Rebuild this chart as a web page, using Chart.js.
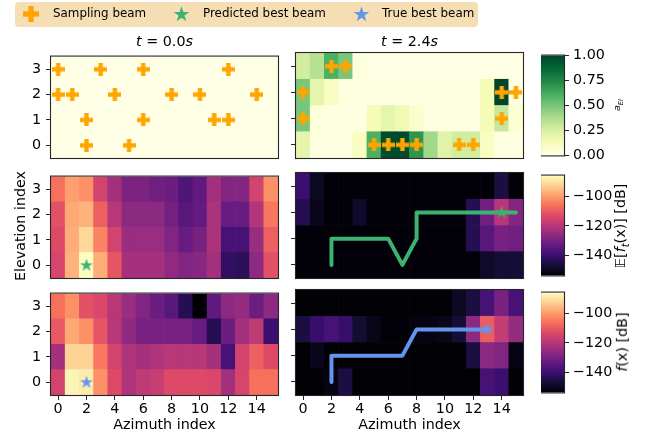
<!DOCTYPE html>
<html>
<head>
<meta charset="utf-8">
<script src="https://cdn.jsdelivr.net/npm/chart.js@4/dist/chart.umd.min.js"></script>
<style>
body { margin: 0; background: #fff; width: 652px; height: 440px; position: relative; overflow: hidden; font-family: 'DejaVu Sans', sans-serif; color: #000; }
.txt { position: absolute; white-space: nowrap; font-size: 14.3px; line-height: 1; }
#legend { position: absolute; left: 15px; top: 2px; width: 463px; height: 25px; background: #f5deb3; border-radius: 4px; }
</style>
</head>
<body>
<div id="legend"></div>
<script>
// axes
var azimuth = [0, 1, 2, 3, 4, 5, 6, 7, 8, 9, 10, 11, 12, 13, 14, 15];
var elevation = [0, 1, 2, 3];
var xTicks = [0, 2, 4, 6, 8, 10, 12, 14];
var yTicks = [0, 1, 2, 3];

// acquisition value a_EI (rows = elevation 0..3)
var acqT0 = [
    [0, 0, 0, 0, 0, 0, 0, 0, 0, 0, 0, 0, 0, 0, 0, 0],
    [0, 0, 0, 0, 0, 0, 0, 0, 0, 0, 0, 0, 0, 0, 0, 0],
    [0, 0, 0, 0, 0, 0, 0, 0, 0, 0, 0, 0, 0, 0, 0, 0],
    [0, 0, 0, 0, 0, 0, 0, 0, 0, 0, 0, 0, 0, 0, 0, 0]
];
var acqT24 = [
    [0.20, 0.01, 0.01, 0.01, 0.10, 0.60, 0.98, 0.98, 0.70, 0.40, 0.22, 0.27, 0.27, 0.10, 0.01, 0.01],
    [0.50, 0.03, 0.01, 0.01, 0.01, 0.13, 0.20, 0.15, 0.07, 0.01, 0.01, 0.01, 0.01, 0.13, 0.30, 0.05],
    [0.50, 0.20, 0.10, 0.02, 0.01, 0.01, 0.01, 0.01, 0.01, 0.01, 0.01, 0.01, 0.01, 0.13, 1.00, 0.01],
    [0.27, 0.35, 0.60, 0.50, 0.03, 0, 0, 0, 0, 0, 0, 0, 0, 0, 0, 0]
];

// predicted mean E[f_t(x)] in dB
var predT0 = [
    [-114.4, -96.8, -86.0, -97.5, -111.0, -122.5, -122.5, -122.5, -125.8, -128.5, -127.2, -123.1, -141.4, -142.7, -126.5, -111.6],
    [-113.0, -97.5, -91.4, -103.5, -115.0, -124.5, -124.5, -124.5, -128.5, -132.6, -129.9, -121.8, -138.0, -138.0, -124.5, -109.0],
    [-111.6, -98.2, -96.8, -109.0, -119.8, -126.5, -126.5, -126.5, -130.5, -135.3, -133.3, -121.8, -132.6, -132.6, -120.4, -105.6],
    [-106.3, -99.5, -101.5, -115.0, -123.1, -129.2, -129.2, -131.2, -131.9, -136.6, -133.9, -123.1, -127.9, -127.9, -115.0, -101.5]
];
var predT24 = [
    [-152.8, -152.8, -152.8, -152.8, -152.8, -152.8, -152.8, -152.8, -152.8, -152.8, -152.8, -152.8, -152.8, -148.8, -146.8, -146.8],
    [-152.8, -152.8, -152.8, -152.8, -152.8, -152.8, -152.8, -152.8, -152.8, -152.8, -152.8, -152.8, -143.4, -135.3, -129.9, -131.2],
    [-143.4, -150.1, -152.8, -152.8, -148.1, -152.8, -152.8, -152.8, -152.8, -152.8, -152.8, -152.8, -143.4, -131.2, -119.8, -127.9],
    [-140.0, -149.4, -152.8, -152.8, -152.8, -152.8, -152.8, -152.8, -152.8, -152.8, -152.8, -152.8, -152.8, -152.8, -145.4, -152.8]
];

// true gain f(x) in dB
var trueT0 = [
    [-115.0, -87.4, -88.7, -101.5, -113.0, -121.1, -118.4, -117.0, -113.0, -113.0, -113.0, -113.7, -123.1, -114.4, -106.3, -106.3],
    [-122.5, -92.1, -92.1, -104.9, -115.0, -121.1, -122.5, -121.1, -119.8, -119.8, -119.8, -122.5, -138.0, -115.0, -109.0, -113.0],
    [-110.3, -98.2, -101.5, -111.0, -119.8, -125.8, -129.9, -129.9, -129.9, -129.9, -132.6, -143.4, -131.9, -123.1, -118.4, -140.0],
    [-106.3, -101.5, -111.6, -113.7, -119.8, -124.5, -128.5, -131.9, -135.3, -143.4, -153.5, -133.9, -126.5, -125.2, -131.9, -126.5]
];
var trueT24 = [
    [-153.2, -153.2, -151.5, -145.4, -153.2, -153.2, -153.2, -153.2, -153.2, -153.2, -153.2, -153.2, -153.2, -138.0, -140.0, -153.2],
    [-153.2, -150.1, -153.2, -153.2, -153.2, -153.2, -153.2, -153.2, -153.2, -153.2, -153.2, -153.2, -145.4, -126.5, -128.5, -151.5],
    [-145.4, -140.7, -138.0, -140.7, -147.4, -150.8, -152.8, -152.8, -152.2, -151.5, -150.8, -146.8, -126.5, -109.6, -117.7, -125.2],
    [-153.2, -153.2, -153.2, -153.2, -153.2, -153.2, -153.2, -153.2, -153.2, -153.2, -153.2, -149.4, -145.4, -138.0, -129.9, -138.0]
];

// sampled beams
var sampleT0X = [0, 3, 6, 12, 0, 1, 4, 8, 10, 14, 2, 6, 11, 12, 2, 5];
var sampleT0Y = [3, 3, 3, 3, 2, 2, 2, 2, 2, 2, 1, 1, 1, 1, 0, 0];
var sampleT24X = [2, 3, 0, 14, 15, 0, 14, 5, 6, 7, 8, 11, 12];
var sampleT24Y = [3, 3, 2, 2, 2, 1, 1, 0, 0, 0, 0, 0, 0];

// best beams and tracked paths
var predBestX = [2, 14];
var predBestY = [0, 2];
var trueBestX = [2, 13];
var trueBestY = [0, 2];
var predPathX = [2, 2, 6, 7, 8, 8, 15];
var predPathY = [0, 1, 1, 0, 1, 2, 2];
var truePathX = [2, 2, 7, 8, 13];
var truePathY = [0, 1, 1, 2, 2];

// colour scales
var acqRange = [0, 1];
var acqTicks = [0, 0.25, 0.5, 0.75, 1];
var dbRange = [-153.5, -86];
var dbTicks = [-140, -120, -100];

var magmaStops = ['#000004', '#140e36', '#3b0f70', '#641a80', '#8c2981', '#b73779', '#de4968', '#f7705c', '#fe9f6d', '#fecf92', '#fcfdbf'];
var ylgnStops = ['#ffffe5', '#f7fcb9', '#d9f0a3', '#addd8e', '#78c679', '#41ab5d', '#238443', '#006837', '#004529'];

var orange = '#ffa500';
var green = '#3cb371';
var blue = '#6495ed';

Chart.defaults.font.family = "'DejaVu Sans', sans-serif";
Chart.defaults.font.size = 14.3;
Chart.defaults.color = '#000';
Chart.defaults.animation = false;
Chart.defaults.plugins.legend.display = false;
Chart.defaults.plugins.tooltip.enabled = false;

var colLeft = [51, 296];
var rowTop = [53, 173, 290];
var panelW = 227;
var panelH = 105;
var cbarLeft = 541;
var cbarW = 23;

function hexRgb(h) {
    return [parseInt(h.substr(1, 2), 16), parseInt(h.substr(3, 2), 16), parseInt(h.substr(5, 2), 16)];
}

function cmapColor(stops, v, range) {
    var t = (v - range[0]) / (range[1] - range[0]);
    t = Math.max(0, Math.min(1, t));
    var p = t * (stops.length - 1);
    var i = Math.min(Math.floor(p), stops.length - 2);
    var f = p - i;
    var a = hexRgb(stops[i]), b = hexRgb(stops[i + 1]);
    var c = a.map(function (x, k) { return Math.round(x + (b[k] - x) * f); });
    return 'rgb(' + c.join(',') + ')';
}

function plusMarker(size, color) {
    var c = document.createElement('canvas');
    c.width = size; c.height = size;
    var g = c.getContext('2d');
    var a = size / 3;
    g.fillStyle = color;
    g.fillRect(a, 0, a, size);
    g.fillRect(0, a, size, a);
    return c;
}

function starMarker(r, color) {
    var size = Math.ceil(2 * r + 2);
    var c = document.createElement('canvas');
    c.width = size; c.height = size;
    var g = c.getContext('2d');
    g.fillStyle = color;
    g.beginPath();
    for (var i = 0; i < 10; i++) {
        var rr = i % 2 ? r * 0.381966 : r;
        var ang = -Math.PI / 2 + i * Math.PI / 5;
        g.lineTo(size / 2 + rr * Math.cos(ang), size / 2 + rr * Math.sin(ang));
    }
    g.closePath();
    g.fill();
    return c;
}

var frame = {
    id: 'frame',
    afterDraw: function (chart) {
        var a = chart.chartArea, g = chart.ctx;
        g.save();
        g.strokeStyle = '#262626';
        g.lineWidth = 1.1;
        g.strokeRect(a.left - 0.5, a.top - 0.5, a.right - a.left + 1, a.bottom - a.top + 1);
        g.restore();
    }
};

function makeCanvas(left, top, w, h) {
    var c = document.createElement('canvas');
    c.width = w; c.height = h;
    c.style.cssText = 'position:absolute;left:' + left + 'px;top:' + top + 'px;width:' + w + 'px;height:' + h + 'px';
    document.body.appendChild(c);
    return c;
}

function xy(xs, ys) {
    return xs.map(function (x, i) { return { x: x, y: ys[i] }; });
}

function heatmap(col, row, grid, stops, range, extra) {
    var showX = row === 2;
    var showY = col === 0;
    var canvas = makeCanvas(colLeft[col] - 45, rowTop[row] - 10, panelW + 55, panelH + 40);
    var datasets = grid.map(function (vals, r) {
        return {
            type: 'bar',
            data: azimuth.map(function (a) { return { x: a, y: [elevation[r] - 0.5, elevation[r] + 0.5] }; }),
            backgroundColor: vals.map(function (v) { return cmapColor(stops, v, range); }),
            borderWidth: 0,
            grouped: false,
            barPercentage: 1,
            categoryPercentage: 1,
            order: 3
        };
    });
    new Chart(canvas, {
        type: 'bar',
        data: { datasets: datasets.concat(extra) },
        options: {
            responsive: false,
            devicePixelRatio: 1,
            layout: { padding: { top: 10, right: 10, left: 0, bottom: 0 } },
            scales: {
                x: {
                    type: 'linear', min: -0.5, max: 15.5, offset: false,
                    grid: { offset: false, drawOnChartArea: false, drawTicks: showX, tickLength: 5, color: '#262626' },
                    border: { display: false },
                    ticks: { display: showX, padding: 1, autoSkip: false },
                    afterBuildTicks: function (a) { a.ticks = xTicks.map(function (v) { return { value: v }; }); },
                    afterFit: function (a) { a.height = 30; }
                },
                y: {
                    type: 'linear', min: -0.5, max: 3.5,
                    grid: { drawOnChartArea: false, tickLength: 5, color: '#262626' },
                    border: { display: false },
                    ticks: { display: showY, padding: 5 },
                    afterBuildTicks: function (a) { a.ticks = yTicks.map(function (v) { return { value: v }; }); },
                    afterFit: function (a) { a.width = 45; }
                }
            }
        },
        plugins: [frame]
    });
}

function colorbar(row, stops, range, ticks, fmt) {
    var canvas = makeCanvas(cbarLeft, rowTop[row] - 10, cbarW + 70, panelH + 20);
    new Chart(canvas, {
        type: 'bar',
        data: {
            labels: [''],
            datasets: [{
                data: [range],
                backgroundColor: function (ctx) {
                    var a = ctx.chart.chartArea;
                    if (!a) return stops[0];
                    var g = ctx.chart.ctx.createLinearGradient(0, a.bottom, 0, a.top);
                    stops.forEach(function (s, i) { g.addColorStop(i / (stops.length - 1), s); });
                    return g;
                },
                borderWidth: 0,
                barPercentage: 1,
                categoryPercentage: 1
            }]
        },
        options: {
            responsive: false,
            devicePixelRatio: 1,
            layout: { padding: { top: 10, bottom: 10, left: 0, right: 0 } },
            scales: {
                x: { display: false },
                y: {
                    position: 'right', min: range[0], max: range[1],
                    grid: { drawOnChartArea: false, tickLength: 5, color: '#262626' },
                    border: { display: false },
                    ticks: { padding: 4, callback: fmt },
                    afterBuildTicks: function (a) { a.ticks = ticks.map(function (v) { return { value: v }; }); },
                    afterFit: function (a) { a.width = 70; }
                }
            }
        },
        plugins: [frame]
    });
}

var plusSmall = plusMarker(13, orange);
var greenStar = starMarker(6.8, green);
var blueStar = starMarker(6.8, blue);

function markers(xs, ys, style) {
    return { type: 'scatter', data: xy(xs, ys), pointStyle: style, pointRadius: 6, clip: false, order: 1 };
}
function path(xs, ys, color) {
    return {
        type: 'line', data: xy(xs, ys), borderColor: color, borderWidth: 4, pointRadius: 0,
        tension: 0, fill: false, borderJoinStyle: 'round', borderCapStyle: 'round', order: 2
    };
}

heatmap(0, 0, acqT0, ylgnStops, acqRange, [markers(sampleT0X, sampleT0Y, plusSmall)]);
heatmap(1, 0, acqT24, ylgnStops, acqRange, [markers(sampleT24X, sampleT24Y, plusSmall)]);
heatmap(0, 1, predT0, magmaStops, dbRange, [markers(predBestX.slice(0, 1), predBestY.slice(0, 1), greenStar)]);
heatmap(1, 1, predT24, magmaStops, dbRange, [path(predPathX, predPathY, green), markers(predBestX.slice(1), predBestY.slice(1), greenStar)]);
heatmap(0, 2, trueT0, magmaStops, dbRange, [markers(trueBestX.slice(0, 1), trueBestY.slice(0, 1), blueStar)]);
heatmap(1, 2, trueT24, magmaStops, dbRange, [path(truePathX, truePathY, blue), markers(trueBestX.slice(1), trueBestY.slice(1), blueStar)]);

var fmtAcq = function (v) { return v.toFixed(2); };
var fmtDb = function (v) { return String(v).replace('-', '\u2212'); };
colorbar(0, ylgnStops, acqRange, acqTicks, fmtAcq);
colorbar(1, magmaStops, dbRange, dbTicks, fmtDb);
colorbar(2, magmaStops, dbRange, dbTicks, fmtDb);

function text(html, x, y, opts) {
    opts = opts || {};
    var d = document.createElement('div');
    d.className = 'txt';
    d.innerHTML = html;
    d.style.left = x + 'px';
    d.style.top = y + 'px';
    if (opts.size) d.style.fontSize = opts.size + 'px';
    var tx = opts.left ? '0' : '-50%';
    d.style.transform = 'translate(' + tx + ',-50%)' + (opts.rot ? ' rotate(-90deg)' : '');
    document.body.appendChild(d);
    return d;
}

// titles and axis labels
text('<i>t</i> = 0.0<i>s</i>', 164.5, 41);
text('<i>t</i> = 2.4<i>s</i>', 409.5, 41);
text('Elevation index', 20, 225.5, { rot: true });
text('Azimuth index', 164.5, 424);
text('Azimuth index', 409.5, 424);
text('<i>a</i><sub style="font-size:70%"><i>EI</i></sub>', 618, 105, { rot: true, size: 9.5 });
text('\uD835\uDD3C[<i>f</i><sub style="font-size:70%"><i>t</i></sub>(x)] [dB]', 622, 225.5, { rot: true });
text('<i>f</i>(x) [dB]', 622, 342, { rot: true });

// legend
function legendMarker(c, cx, cy) {
    c.style.cssText = 'position:absolute;left:' + (cx - c.width / 2) + 'px;top:' + (cy - c.height / 2) + 'px';
    document.body.appendChild(c);
}
legendMarker(plusMarker(16, orange), 31, 14);
legendMarker(starMarker(8.2, green), 181, 14);
legendMarker(starMarker(8.2, blue), 361, 14);
text('Sampling beam', 53, 14, { left: true, size: 11.9 });
text('Predicted best beam', 203, 14, { left: true, size: 11.9 });
text('True best beam', 382, 14, { left: true, size: 11.9 });
</script>
</body>
</html>
